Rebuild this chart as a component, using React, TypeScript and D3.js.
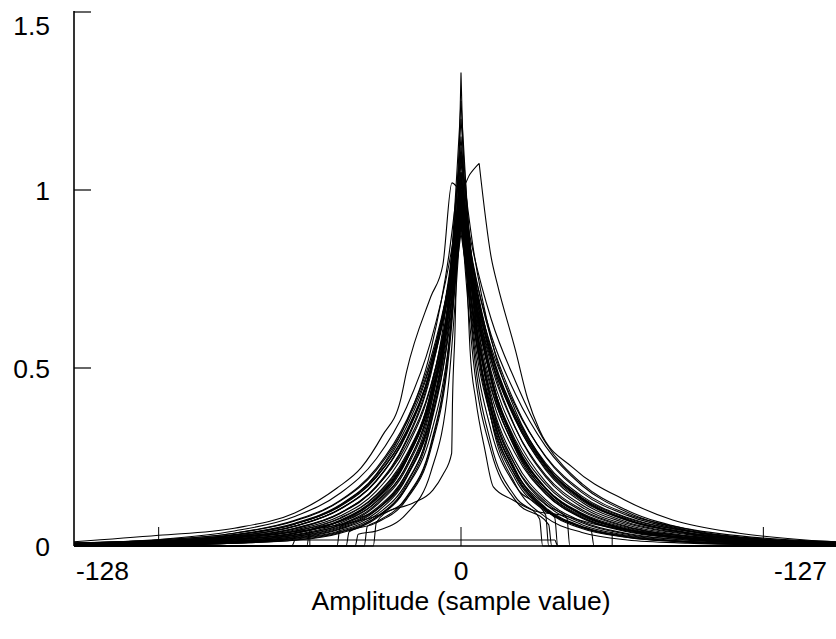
import React from "react";
import * as d3 from "d3";

const WIDTH = 836;
const HEIGHT = 639;

// x positions (sample value) where the bundle curves were read
const xGrid = [-128, -100, -75, -55, -40, -28, -18, -10, -4, 0, 4, 10, 18, 28, 40, 55, 75, 100, 128];

// densities of the main bundle of curves, read at xGrid
const bundleCurves: number[][] = [
  [.003,.007,.018,.037,.072,.137,.251,.43,.693,1.00,.72,.467,.285,.161,.088,.046,.022,.009,.0045],
  [.002,.005,.012,.027,.055,.106,.204,.369,.627,.95,.658,.409,.238,.13,.069,.035,.017,.007,.003],
  [.005,.01,.024,.049,.092,.168,.299,.49,.756,1.05,.78,.525,.332,.194,.109,.059,.029,.012,.006],
  [.002,.003,.008,.019,.04,.081,.164,.313,.569,.92,.607,.357,.198,.104,.053,.026,.012,.005,.002],
  [.006,.013,.03,.062,.114,.202,.348,.55,.817,1.10,.839,.582,.38,.228,.132,.072,.036,.016,.008],
  [.003,.007,.018,.036,.07,.134,.246,.421,.679,.98,.728,.49,.31,.18,.102,.055,.027,.012,.005],
  [.002,.006,.013,.03,.058,.114,.219,.396,.673,1.02,.734,.476,.291,.163,.09,.047,.023,.009,.0045],
  [.004,.008,.02,.042,.079,.144,.257,.42,.648,.90,.624,.387,.226,.124,.065,.033,.016,.007,.003],
  [.002,.004,.011,.024,.049,.101,.205,.391,.712,1.15,.712,.391,.205,.101,.049,.024,.011,.004,.002],
  [.007,.014,.032,.064,.116,.2,.335,.513,.74,.97,.756,.538,.361,.222,.131,.074,.037,.017,.008],
  [.005,.012,.027,.056,.104,.184,.316,.5,.743,1.00,.72,.467,.285,.161,.088,.046,.022,.009,.0045],
  [.008,.017,.036,.07,.126,.213,.346,.516,.724,.93,.738,.538,.37,.233,.14,.08,.042,.019,.009],
  [.001,.003,.008,.016,.036,.078,.166,.342,.68,1.20,.743,.408,.214,.105,.052,.025,.011,.004,.002],
  [.003,.007,.017,.035,.07,.131,.241,.413,.665,.96,.732,.508,.331,.199,.115,.063,.032,.014,.006],
  [.002,.006,.013,.03,.06,.118,.226,.407,.693,1.05,.693,.407,.226,.118,.06,.03,.013,.006,.002],
  [.004,.008,.02,.041,.077,.142,.251,.411,.634,.88,.654,.44,.278,.162,.092,.05,.024,.01,.005],
  [.008,.018,.042,.083,.148,.245,.39,.575,.79,1.00,.794,.579,.398,.25,.15,.086,.043,.019,.009],
  [.006,.013,.031,.062,.113,.195,.324,.497,.717,.94,.698,.47,.297,.173,.098,.053,.026,.011,.005],
  [.002,.004,.01,.022,.047,.094,.192,.367,.669,1.08,.748,.464,.271,.148,.078,.04,.019,.008,.004],
  [.005,.012,.027,.055,.103,.182,.313,.495,.736,.99,.771,.549,.368,.227,.134,.075,.038,.018,.009],
  [.002,.005,.011,.026,.052,.102,.196,.353,.601,.91,.655,.425,.259,.146,.08,.042,.02,.008,.004],
  [.001,.003,.008,.017,.038,.081,.173,.356,.709,1.25,.709,.356,.173,.081,.038,.017,.008,.003,.001],
  [.0045,.01,.023,.048,.091,.165,.294,.481,.742,1.03,.786,.545,.355,.214,.123,.067,.034,.015,.007],
  [.008,.017,.036,.072,.128,.218,.353,.527,.74,.95,.74,.527,.353,.218,.128,.072,.036,.017,.008],
  [.003,.007,.017,.036,.07,.133,.243,.417,.672,.97,.64,.376,.209,.108,.055,.028,.012,.0055,.002],
  [.003,.006,.014,.032,.064,.125,.241,.435,.739,1.12,.776,.482,.281,.153,.081,.042,.02,.008,.004],
  [.005,.01,.025,.05,.093,.166,.284,.45,.669,.90,.715,.521,.358,.225,.136,.078,.041,.018,.009],
  [.002,.004,.009,.021,.043,.087,.178,.34,.619,1.00,.72,.467,.285,.161,.088,.046,.022,.009,.0045],
  [.0045,.009,.022,.045,.084,.154,.274,.448,.691,.96,.691,.448,.274,.154,.084,.045,.022,.009,.0045],
  [.006,.013,.031,.061,.111,.193,.321,.492,.71,.93,.75,.558,.392,.252,.155,.09,.048,.022,.011],
  [.005,.012,.027,.056,.104,.184,.316,.5,.743,1.00,.828,.637,.463,.29,.175,.10,.047,.019,.008],
  [.003,.007,.017,.036,.07,.133,.243,.417,.672,.97,.786,.592,.427,.28,.17,.095,.044,.018,.007],
];

// curves that drop to zero at a cut-off
const truncatedX: number[][] = [
  [-128, -32, -31, -28, -18, -10, -4, 0, 4, 10, 18, 26, 27, 128],
  [-128, -38, -37, -28, -18, -10, -4, 0, 4, 10, 18, 28, 29, 128],
  [-128, -51, -50, -40, -28, -18, -10, -4, 0, 4, 10, 18, 28, 31, 32, 128],
  [-128, -29, -28, -18, -10, -4, 0, 4, 10, 18, 28, 35, 36, 128],
  [-128, -41, -40, -28, -18, -10, -4, 0, 4, 10, 18, 28, 40, 43, 44, 128],
  [-128, -35, -34, -28, -18, -10, -4, 0, 4, 10, 18, 29, 30, 128],
];
const truncatedY: number[][] = [
  [0, 0, .055, .068, .138, .285, .567, 1.0, .567, .285, .138, .076, 0, 0],
  [0, 0, .04, .065, .131, .271, .539, .95, .588, .323, .169, .087, 0, 0],
  [0, 0, .045, .068, .124, .226, .407, .693, 1.05, .65, .357, .187, .097, .08, 0, 0],
  [0, 0, .066, .135, .279, .556, .98, .647, .38, .211, .116, .08, 0, 0],
  [0, 0, .054, .101, .196, .374, .681, 1.1, .681, .374, .196, .101, .054, .046, 0, 0],
  [0, 0, .033, .042, .091, .207, .465, .93, .527, .265, .128, .06, 0, 0],
];

// the wide curve with two shoulders near the top
const shoulderX = [-128, -100, -75, -55, -41, -33, -26, -20, -18, -10, -6, -3, 0, 3, 6, 10, 12, 18, 22, 26, 37, 54, 70, 92, 114, 128];
const shoulderY = [.012, .03, .05, .093, .163, .22, .31, .41, .49, .70, .79, 1.02, 1.0, 1.045, 1.075, .81, .736, .55, .415, .325, .22, .13, .073, .036, .017, .01];

// the narrow spike with a long low tail
const spikeX = [-128, -100, -75, -55, -40, -27, -23.5, -16, -9.3, -6, -3.1, -2.8, -2, -1, 0, 1, 2, 3, 4.9, 7.9, 10.7, 17, 24, 33, 45, 60, 80, 100, 128];
const spikeY = [.008, .015, .025, .04, .06, .087, .10, .12, .157, .2, .26, .41, .6, .95, 1.33, 1.0, .75, .55, .41, .27, .166, .13, .10, .087, .06, .04, .025, .015, .008];

// the nearly flat curve just above zero
const floorX = [-128, -56, -55, 31, 32, 128];
const floorY = [0, 0, .017, .017, 0, 0];

const yTicks = [0, 0.5, 1, 1.5];
const yTickLabels = ["0", "0.5", "1", "1.5"];
const xTicksMajor = [-100, 0, 100];
const xTicksMinor = [-50, 50];
const xLabelLeft = "-128";
const xLabelMid = "0";
const xLabelRight = "-127";
const xTitle = "Amplitude (sample value)";

const FONT = "'Liberation Sans', Arial, Helvetica, sans-serif";
const FS = 26.5;

export default function App() {
  const x = d3.scaleLinear().domain([-128, 128]).range([74, 848]);
  const y = d3.scaleLinear().domain([0, 1.5]).range([546, 12]);

  const line = d3
    .line<[number, number]>()
    .x((d) => x(d[0]))
    .y((d) => y(d[1]))
    .curve(d3.curveMonotoneX);

  const pathFor = (xs: number[], ys: number[]) => {
    const pts: [number, number][] = xs.map((v, i) => [v, ys[i]]);
    let peak = 0;
    pts.forEach((p, i) => {
      if (p[1] > pts[peak][1]) peak = i;
    });
    const left = pts.slice(0, peak + 1);
    const right = pts.slice(peak);
    return (line(left) || "") + (line(right) || "");
  };

  const paths: string[] = [];
  bundleCurves.forEach((ys) => paths.push(pathFor(xGrid, ys)));
  truncatedX.forEach((xs, i) => paths.push(pathFor(xs, truncatedY[i])));
  paths.push(pathFor(shoulderX, shoulderY));
  paths.push(pathFor(spikeX, spikeY));
  paths.push(pathFor(floorX, floorY));

  const x0 = x(-128);
  const yBase = y(0);

  return (
    <svg
      width={WIDTH}
      height={HEIGHT}
      style={{ position: "absolute", left: 0, top: 0, background: "#fff" }}
      fontFamily={FONT}
    >
      <rect x={0} y={0} width={WIDTH} height={HEIGHT} fill="#fff" />
      <g fill="none" stroke="#000" strokeWidth={1.1}>
        {paths.map((d, i) => (
          <path key={i} d={d} />
        ))}
      </g>
      {/* axes */}
      <line x1={x0} x2={x0} y1={y(1.5) - 1} y2={yBase} stroke="#000" strokeWidth={1.6} />
      <line x1={x0} x2={WIDTH} y1={yBase} y2={yBase} stroke="#000" strokeWidth={1.6} />
      {yTicks.map((t) => (
        <line key={"yt" + t} x1={x0} x2={x0 + 17} y1={y(t)} y2={y(t)} stroke="#000" strokeWidth={1.2} />
      ))}
      {xTicksMajor.map((t) => (
        <line key={"xM" + t} x1={x(t)} x2={x(t)} y1={yBase} y2={yBase - 19} stroke="#000" strokeWidth={1} />
      ))}
      {xTicksMinor.map((t) => (
        <line key={"xm" + t} x1={x(t)} x2={x(t)} y1={yBase} y2={yBase - 14} stroke="#000" strokeWidth={1} />
      ))}
      {yTicks.map((t, i) => (
        <text
          key={"yl" + t}
          x={50}
          y={Math.max(y(t) + 9.5, 35)}
          textAnchor="end"
          fontSize={FS}
          fill="#000"
        >
          {yTickLabels[i]}
        </text>
      ))}
      <text x={x0 + 2} y={580} fontSize={FS} textAnchor="start" fill="#000">
        {xLabelLeft}
      </text>
      <text x={x(0)} y={580} fontSize={FS} textAnchor="middle" fill="#000">
        {xLabelMid}
      </text>
      <text x={WIDTH - 9} y={580} fontSize={FS} textAnchor="end" fill="#000">
        {xLabelRight}
      </text>
      <text x={x(0)} y={610} fontSize={FS} textAnchor="middle" fill="#000">
        {xTitle}
      </text>
    </svg>
  );
}
